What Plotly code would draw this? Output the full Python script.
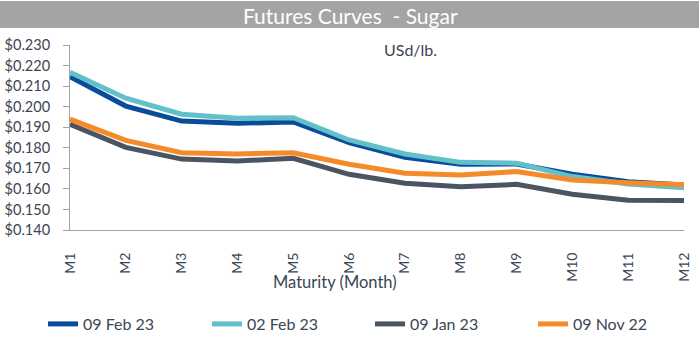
import plotly.graph_objects as go

months = ["M1", "M2", "M3", "M4", "M5", "M6", "M7", "M8", "M9", "M10", "M11", "M12"]
feb09_23 = [0.2146, 0.2003, 0.1930, 0.1919, 0.1926, 0.1825, 0.1754, 0.1720, 0.1721, 0.1671, 0.1635, 0.1619]
feb02_23 = [0.2167, 0.2041, 0.1963, 0.1944, 0.1946, 0.1838, 0.1770, 0.1729, 0.1725, 0.1660, 0.1624, 0.1605]
jan09_23 = [0.1914, 0.1802, 0.1745, 0.1736, 0.1749, 0.1671, 0.1627, 0.1611, 0.1622, 0.1574, 0.1545, 0.1544]
nov09_22 = [0.1939, 0.1836, 0.1776, 0.1770, 0.1776, 0.1720, 0.1676, 0.1668, 0.1684, 0.1643, 0.1630, 0.1620]

series = [
    ("09 Feb 23", feb09_23, "#0a4c9c"),
    ("02 Feb 23", feb02_23, "#62c0ca"),
    ("09 Jan 23", jan09_23, "#4a5561"),
    ("09 Nov 22", nov09_22, "#f58a2a"),
]
legend_left_px = [43, 207, 370, 533]

W, H = 700, 347
L, R, T, B = 70, 16, 45, 117
pw, ph = W - L - R, H - T - B

def px(x):
    return (x - L) / pw

def py(y):
    return (H - B - y) / ph

FONT = "Lato"
TXT = "#3b4654"

fig = go.Figure()
legend_layouts = {}
for i, (name, vals, col) in enumerate(series):
    lname = "legend" if i == 0 else f"legend{i + 1}"
    fig.add_trace(go.Scatter(x=months, y=vals, name=name, mode="lines",
                             line=dict(color=col, width=5), legend=lname))
    legend_layouts[lname] = dict(
        orientation="h", xref="container", yref="container",
        x=legend_left_px[i] / W, xanchor="left", y=(H - 324) / H, yanchor="middle",
        font=dict(family=FONT, size=16, color=TXT), bgcolor="rgba(0,0,0,0)")

fig.update_layout(
    width=W, height=H,
    margin=dict(l=L, r=R, t=T, b=B, autoexpand=False),
    paper_bgcolor="white", plot_bgcolor="white",
    font=dict(family=FONT, color=TXT, size=14),
    showlegend=True,
    xaxis=dict(type="category", range=[0, 11], showgrid=False, showline=True,
               linecolor="#a3a3a3", linewidth=1, tickangle=-90, ticks="",
               ticklabelstandoff=16, tickfont=dict(size=14, color=TXT), zeroline=False),
    yaxis=dict(range=[0.14, 0.23], dtick=0.01, tick0=0.14, tickprefix="$", tickformat=".3f",
               showgrid=False, showline=True, linecolor="#a3a3a3", linewidth=1,
               ticks="outside", ticklen=6, tickcolor="#a3a3a3", ticklabelstandoff=10,
               tickfont=dict(size=14.5, color=TXT), zeroline=False),
    shapes=[dict(type="rect", xref="paper", yref="paper", x0=px(0), x1=px(699),
                 y0=py(28), y1=py(1), fillcolor="#a3a4a3", line=dict(width=0), layer="below")],
    annotations=[
        dict(text="Futures Curves  - Sugar", xref="paper", yref="paper", x=px(350), y=py(15),
             xanchor="center", yanchor="middle", showarrow=False,
             font=dict(family=FONT, size=21, color="white")),
        dict(text="USd/lb.", xref="paper", yref="paper", x=px(410), y=py(50),
             xanchor="center", yanchor="middle", showarrow=False,
             font=dict(family=FONT, size=16, color=TXT)),
        dict(text="Maturity (Month)", xref="paper", yref="paper", x=px(335), y=py(282),
             xanchor="center", yanchor="middle", showarrow=False,
             font=dict(family=FONT, size=16.5, color=TXT)),
    ],
)
fig.update_layout(**legend_layouts)

fig.write_html("out.html")
